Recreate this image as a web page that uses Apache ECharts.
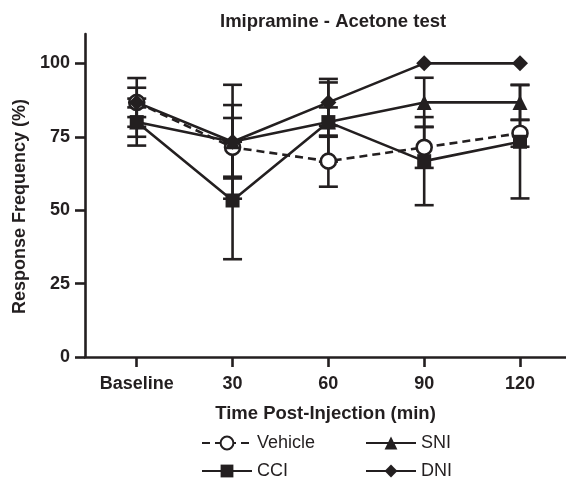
<!DOCTYPE html>
<html><head><meta charset="utf-8">
<script src="https://cdn.jsdelivr.net/npm/echarts@6/dist/echarts.min.js"></script>
<style>html,body{margin:0;padding:0;background:#fff}#c{width:566px;height:491px}</style>
</head><body><div id="c"></div>
<script>
const categories = ['Baseline', '30', '60', '90', '120'];
const yTicks = [0, 25, 50, 75, 100];
const vehicle = [86.7, 71.4, 66.7, 71.4, 76.2];
const vehicleErr = [8.3, 10, 8.7, 7, 4.6];
const sni = [80, 73.3, 80, 86.7, 86.7];
const sniErr = [5, 12.5, 13.5, 8.4, 6];
const cci = [80, 53.3, 80, 66.7, 73.3];
const cciErr = [8, 20, 5, 15, 19.3];
const dni = [86.7, 73.3, 86.7, 100, 100];
const dniErr = [5, 19.4, 8, 0, 0];

const INK = '#231f20';
const FONT = 'Liberation Sans, Arial, sans-serif';
const FS = 18;

function pts(arr) { return arr.map((v, i) => [i, v]); }
function errs(arr, e) { return arr.map((v, i) => [i, v - e[i], v + e[i]]); }

function errSeries(name, arr, e) {
  return {
    type: 'custom', name: name + ' err', z: 5, silent: true,
    data: errs(arr, e),
    renderItem: function (params, api) {
      if (api.value(2) - api.value(1) === 0) return;
      const lo = api.coord([api.value(0), api.value(1)]);
      const hi = api.coord([api.value(0), api.value(2)]);
      const hw = 9.5;
      const st = { stroke: INK, lineWidth: 2.6 };
      return { type: 'group', children: [
        { type: 'line', shape: { x1: lo[0], y1: lo[1], x2: hi[0], y2: hi[1] }, style: st },
        { type: 'line', shape: { x1: lo[0] - hw, y1: lo[1], x2: lo[0] + hw, y2: lo[1] }, style: st },
        { type: 'line', shape: { x1: hi[0] - hw, y1: hi[1], x2: hi[0] + hw, y2: hi[1] }, style: st }
      ]};
    }
  };
}

function lineSeries(name, arr, symbol, size, dashed, open) {
  return {
    type: 'line', name: name, data: pts(arr), z: open ? 6 : 7,
    symbol: symbol, symbolSize: size, showAllSymbol: true,
    lineStyle: { color: INK, width: 2.6, type: dashed ? [8, 5] : 'solid' },
    itemStyle: { color: open ? '#fff' : INK, borderColor: INK, borderWidth: open ? 2.6 : 0 },
    emphasis: { disabled: true }, animation: false
  };
}

function legendAt(name, left, top) {
  return {
    data: [name], left: left, top: top, itemWidth: 50, itemHeight: 16, itemGap: 5,
    selectedMode: false,
    textStyle: { fontFamily: FONT, fontSize: FS, color: INK }
  };
}

const chart = echarts.init(document.getElementById('c'), null, { renderer: 'canvas' });
chart.setOption({
  animation: false,
  backgroundColor: '#fff',
  title: {
    text: 'Imipramine - Acetone test', left: 215, top: 7,
    textStyle: { fontFamily: FONT, fontSize: 18.5, fontWeight: 'bold', color: INK }
  },
  legend: [
    legendAt('Vehicle', 196, 429),
    legendAt('SNI', 360, 429),
    legendAt('CCI', 196, 457),
    legendAt('DNI', 360, 457)
  ],
  grid: { left: 85, right: 0, top: 34, bottom: 134, containLabel: false },
  xAxis: {
    type: 'value', min: -0.54, max: 4.48,
    name: 'Time Post-Injection (min)', nameLocation: 'middle', nameGap: 47,
    nameTextStyle: { fontFamily: FONT, fontSize: 18.5, fontWeight: 'bold', color: INK },
    axisLine: { lineStyle: { color: INK, width: 2.6 } },
    axisTick: { customValues: [0, 1, 2, 3, 4], length: 10, lineStyle: { color: INK, width: 2.6 } },
    axisLabel: { customValues: [0, 1, 2, 3, 4], margin: 18, formatter: v => categories[Math.round(v)],
      fontFamily: FONT, fontSize: FS, fontWeight: 'bold', color: INK },
    splitLine: { show: false }
  },
  yAxis: {
    type: 'value', min: 0, max: 110,
    name: 'Response Frequency (%)', nameLocation: 'middle', nameGap: 54, nameRotate: 90,
    nameTextStyle: { fontFamily: FONT, fontSize: FS, fontWeight: 'bold', color: INK, padding: [0, 22, 0, 0] },
    axisLine: { show: true, onZero: false, lineStyle: { color: INK, width: 2.6 } },
    axisTick: { show: true, customValues: yTicks, length: 10, lineStyle: { color: INK, width: 2.6 } },
    axisLabel: { customValues: yTicks, margin: 15, fontFamily: FONT, fontSize: FS, fontWeight: 'bold', color: INK },
    splitLine: { show: false }
  },
  series: [
    lineSeries('Vehicle', vehicle, 'circle', 15, true, true),
    lineSeries('SNI', sni, 'triangle', 15, false, false),
    lineSeries('CCI', cci, 'rect', 14, false, false),
    lineSeries('DNI', dni, 'diamond', 16, false, false),
    errSeries('Vehicle', vehicle, vehicleErr),
    errSeries('SNI', sni, sniErr),
    errSeries('CCI', cci, cciErr),
    errSeries('DNI', dni, dniErr)
  ]
});
</script></body></html>
